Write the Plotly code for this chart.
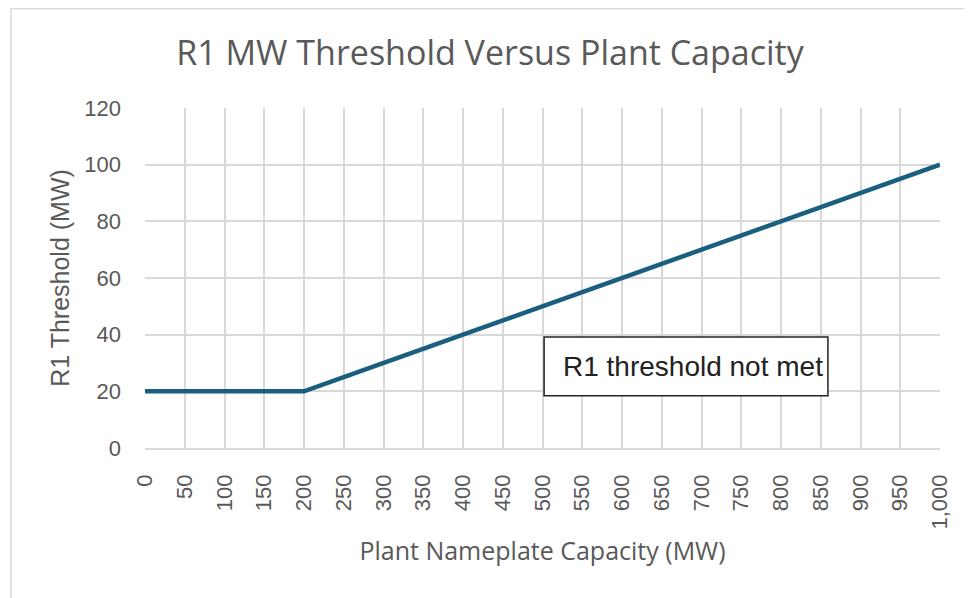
import plotly.graph_objects as go

capacity = [0, 50, 100, 150, 200, 250, 300, 350, 400, 450, 500,
            550, 600, 650, 700, 750, 800, 850, 900, 950, 1000]
threshold = [20, 20, 20, 20, 20, 25, 30, 35, 40, 45, 50,
             55, 60, 65, 70, 75, 80, 85, 90, 95, 100]

title_text = "R1 MW Threshold Versus Plant Capacity"
x_title = "Plant Nameplate Capacity (MW)"
y_title = "R1 Threshold (MW)"
note_text = "R1 threshold not met"

fig = go.Figure()
fig.add_trace(go.Scatter(
    x=capacity, y=threshold, mode="lines",
    line=dict(color="#1a5e80", width=4.5),
    showlegend=False, hoverinfo="skip",
))

grid = "#d9d9d9"
L, T, PW, PH = 137, 100, 795, 340
fig.update_layout(
    width=972, height=598,
    margin=dict(l=L, r=972 - L - PW, t=T, b=598 - T - PH),
    paper_bgcolor="white", plot_bgcolor="white",
    title=dict(text=title_text, x=(490 - 8) / 972, xanchor="center",
               y=1 - 45 / 598, yanchor="middle", yref="container",
               font=dict(family="Open Sans", size=34, color="#595959")),
    xaxis=dict(range=[0, 1000], tick0=0, dtick=50, tickformat=",",
               tickangle=-90, showgrid=True, gridcolor=grid, gridwidth=1.5,
               showline=True, linecolor=grid, linewidth=1.5,
               zeroline=False, ticks="", ticklabelstandoff=16,
               tickfont=dict(family="Liberation Sans", size=22, color="#595959"),
               title=dict(text=x_title, standoff=14,
                          font=dict(family="Open Sans", size=25, color="#595959"))),
    yaxis=dict(range=[0, 120], dtick=20, showgrid=True, gridcolor=grid,
               gridwidth=1.5, showline=False, zeroline=True,
               zerolinecolor=grid, zerolinewidth=1.5, ticks="",
               ticklabelstandoff=23,
               tickfont=dict(family="Liberation Sans", size=22, color="#595959"),
               title=dict(text=y_title, standoff=7,
                          font=dict(family="Liberation Sans", size=25, color="#595959"))),
)

# annotation box
fig.add_shape(type="rect", xref="x", yref="y", x0=502, x1=859, y0=18.4, y1=39.2,
              line=dict(color="#222222", width=1.5), fillcolor="white", layer="above")
fig.add_annotation(x=(561 - 145) / 795 * 1000, y=28.8, xref="x", yref="y",
                   text=note_text, showarrow=False, xanchor="left", yanchor="middle",
                   font=dict(family="Liberation Sans", size=28, color="#222222"))

# outer chart border
fig.add_shape(type="rect", xref="paper", yref="paper",
              x0=(3 - L) / PW, x1=(961 - L) / PW,
              y0=-(640 - T - PH) / PH, y1=1 + (T - 0.5) / PH,
              line=dict(color="#d9d9d9", width=1.5), layer="below")

fig.write_html("out.html")
